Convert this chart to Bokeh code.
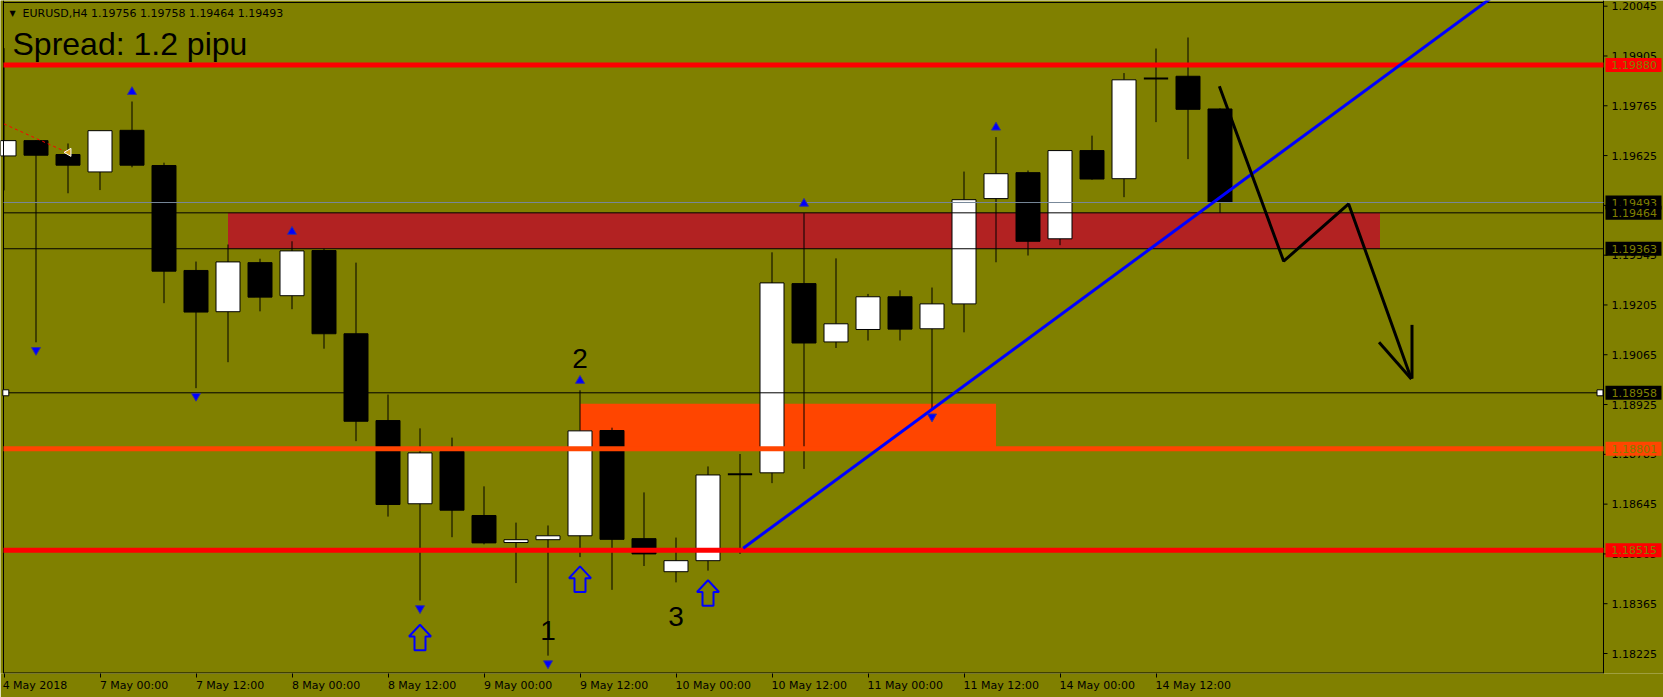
from bokeh.plotting import figure
from bokeh.models import Range1d, Label, FixedTicker, LinearAxis, ColumnDataSource
from bokeh.embed import file_html
from bokeh.resources import INLINE
from bokeh.core.properties import value
import math

# ---------------- data ----------------
bars = list(range(39))
opens = [1.19624, 1.19667, 1.19628, 1.19579, 1.19696, 1.19597, 1.19302, 1.19186, 1.19324, 1.19231,
         1.19358, 1.19124, 1.18880, 1.18646, 1.18793, 1.18613, 1.18537, 1.18545, 1.18556, 1.18852,
         1.18548, 1.18455, 1.18486, 1.18729, 1.18733, 1.19265, 1.19101, 1.19136, 1.19228, 1.19138,
         1.19208, 1.19504, 1.19577, 1.19391, 1.19639, 1.19560, 1.19842, 1.19848, 1.19756]
highs = [1.19927, 1.19668, 1.19659, 1.19695, 1.19777, 1.19605, 1.19327, 1.19375, 1.19335, 1.19384,
         1.19363, 1.19324, 1.18953, 1.18858, 1.18832, 1.18695, 1.18593, 1.18585, 1.18965, 1.18860,
         1.18678, 1.18551, 1.18751, 1.18786, 1.19353, 1.19463, 1.19336, 1.19236, 1.19246, 1.19254,
         1.19580, 1.19677, 1.19583, 1.19640, 1.19681, 1.19857, 1.19926, 1.19957, 1.19758]
lows = [1.19527, 1.19100, 1.19519, 1.19528, 1.19592, 1.19210, 1.18971, 1.19044, 1.19187, 1.19193,
        1.19082, 1.18822, 1.18610, 1.18374, 1.18552, 1.18532, 1.18423, 1.18219, 1.18496, 1.18404,
        1.18471, 1.18425, 1.18458, 1.18505, 1.18704, 1.18744, 1.19084, 1.19105, 1.19105, 1.18913,
        1.19128, 1.19325, 1.19344, 1.19373, 1.19557, 1.19508, 1.19719, 1.19615, 1.19464]
closes = [1.19667, 1.19626, 1.19598, 1.19695, 1.19598, 1.19300, 1.19185, 1.19326, 1.19227, 1.19357,
          1.19124, 1.18878, 1.18644, 1.18789, 1.18628, 1.18536, 1.18545, 1.18556, 1.18851, 1.18546,
          1.18505, 1.18486, 1.18727, 1.18729, 1.19267, 1.19098, 1.19152, 1.19228, 1.19137, 1.19208,
          1.19501, 1.19574, 1.19384, 1.19639, 1.19559, 1.19838, 1.19842, 1.19755, 1.19493]

x_tick_bars = [0, 3, 6, 9, 12, 15, 18, 21, 24, 27, 30, 33, 36]
x_tick_labels = ["4 May 2018", "7 May 00:00", "7 May 12:00", "8 May 00:00", "8 May 12:00",
                 "9 May 00:00", "9 May 12:00", "10 May 00:00", "10 May 12:00", "11 May 00:00",
                 "11 May 12:00", "14 May 00:00", "14 May 12:00"]
y_ticks = [1.18225, 1.18365, 1.18505, 1.18645, 1.18785, 1.18925, 1.19065, 1.19205,
           1.19345, 1.19485, 1.19625, 1.19765, 1.19905, 1.20045]

thick_levels = [1.19880, 1.18801, 1.18515]
thick_colors = ["#FF0000", "#FF4500", "#FF0000"]
thin_levels = [1.19464, 1.19363, 1.18958]
bid_level = 1.19493

zone_left = [7, 18]
zone_right = [43, 31]
zone_bottom = [1.19363, 1.18801]
zone_top = [1.19464, 1.18927]
zone_colors = ["#B22222", "#FF4500"]

fractal_up_bars = [4, 9, 18, 25, 31]
fractal_down_bars = [1, 6, 13, 17, 29]

signal_bars = [13, 18, 22]
signal_prices = [1.18270, 1.18434, 1.18395]

wave_texts = ["1", "2", "3"]
wave_bars = [17, 18, 21]
wave_prices = [1.18290, 1.19054, 1.18329]

trend_bars = [23.1, 37.0]
trend_prices = [1.18521, 1.19441]

zig_bars = [37.98, 39.99, 42.02, 43.98]
zig_prices = [1.19820, 1.19328, 1.19489, 1.18997]
head_bars0 = [42.97, 44.0]
head_prices0 = [1.19100, 1.19149]
head_bars1 = [43.98, 44.0]
head_prices1 = [1.18997, 1.18998]

trade_bars = [0.0, 1.97]
trade_prices = [1.19714, 1.19634]

tag_prices = [1.19880, 1.19493, 1.19464, 1.19363, 1.18958, 1.18801, 1.18515]
tag_colors = ["#FF0000", "#000000", "#000000", "#000000", "#000000", "#FF4500", "#FF0000"]

OLIVE = "#808000"
FONT = "DejaVu Sans"

# ---------------- scales ----------------
PXB = 32.0            # pixels per bar
PXP = 35566.0         # pixels per price unit
XL, XR = -3.5 / PXB, (1663 - 3.5) / PXB      # whole canvas width
X0, X1 = -0.5 / PXB, (1603 - 3.5) / PXB       # chart border (left / right)
YB, YT = 1.181688, 1.200610                   # frame bottom / top
Y_TOP_BORDER = 1.200554
Y_BOT_BORDER = YB + 0.5 / PXP

p = figure(width=1663, height=697, x_range=Range1d(XL, XR), y_range=Range1d(YB, YT),
           output_backend="svg", toolbar_location=None, y_axis_location=None,
           min_border_left=0, min_border_top=0, min_border_right=0, min_border_bottom=24,
           background_fill_color=OLIVE, border_fill_color=OLIVE, outline_line_color=None)
p.xgrid.visible = False
p.ygrid.visible = False

# x axis: tick marks
ax1 = p.xaxis[0]
ax1.ticker = FixedTicker(ticks=x_tick_bars)
ax1.major_label_overrides = {b: "" for b in x_tick_bars}
ax1.major_label_text_font_size = "1px"
ax1.major_label_standoff = 0
ax1.axis_line_color = None
ax1.major_tick_line_color = "black"
ax1.minor_tick_line_color = None
ax1.major_tick_in = 0
ax1.major_tick_out = 4

# x axis: labels starting at their tick (MT4 style)
label_pos = [round(b + len(t) * 3.1 / PXB, 4) for b, t in zip(x_tick_bars, x_tick_labels)]
ax2 = LinearAxis(ticker=FixedTicker(ticks=label_pos),
                 major_label_overrides={pos: t for pos, t in zip(label_pos, x_tick_labels)},
                 axis_line_color=None, major_tick_line_color=None, minor_tick_line_color=None,
                 major_tick_in=0, major_tick_out=0, major_label_standoff=1,
                 major_label_text_font=FONT, major_label_text_font_size="11px",
                 major_label_text_color="black")
p.add_layout(ax2, "below")

# zones (below candles)
p.quad(left=zone_left, right=zone_right, bottom=zone_bottom, top=zone_top,
       fill_color=zone_colors, line_color=None)

# candles
bull = [c > o for o, c in zip(opens, closes)]
doji = [abs(c - o) < 1e-9 for o, c in zip(opens, closes)]
src = ColumnDataSource(dict(
    x=bars, high=highs, low=lows,
    top=[max(o, c) for o, c in zip(opens, closes)],
    bottom=[min(o, c) for o, c in zip(opens, closes)],
    fill=["white" if b else "black" for b in bull],
))
p.segment(x0="x", y0="low", x1="x", y1="high", source=src, line_color="black", line_width=1)
body_src = ColumnDataSource({k: [v for v, d in zip(vals, doji) if not d] for k, vals in src.data.items()})
p.vbar(x="x", top="top", bottom="bottom", width=0.75, source=body_src,
       fill_color="fill", line_color="black", line_width=1)
dx = [b for b, d in zip(bars, doji) if d]
dy = [o for o, d in zip(opens, doji) if d]
p.segment(x0=[b - 0.38 for b in dx], y0=dy, x1=[b + 0.38 for b in dx], y1=dy,
          line_color="black", line_width=2)

# chart border
p.segment(x0=[X0, X1, X0, X0], y0=[YB, YB, Y_TOP_BORDER, Y_BOT_BORDER],
          x1=[X0, X1, X1, X1], y1=[YT, YT, Y_TOP_BORDER, Y_BOT_BORDER],
          line_color="black", line_width=1)

# horizontal levels
p.segment(x0=[X0] * 3, x1=[X1] * 3, y0=thick_levels, y1=thick_levels, line_color=thick_colors, line_width=5)
p.segment(x0=[X0] * 3, x1=[X1] * 3, y0=thin_levels, y1=thin_levels, line_color="black", line_width=1)
p.segment(x0=[X0], x1=[X1], y0=[bid_level], y1=[bid_level], line_color="#778899", line_width=1)

# selected-line handles
p.scatter(x=[X0 + 2.3 / PXB, X1 - 3.5 / PXB], y=[thin_levels[2]] * 2, marker="square", size=6,
          fill_color="white", line_color="black", line_width=1)

# trade history dashed line
p.line(x=trade_bars, y=trade_prices, line_color="red", line_width=1, line_dash="3 3")
p.scatter(x=[trade_bars[1] + 0.05], y=[trade_prices[1]], marker="triangle", angle=math.pi / 2,
          size=8, fill_color="#DAA520", line_color="white", line_width=1)

# trend line through two anchors, extended to the right
slope = (trend_prices[1] - trend_prices[0]) / (trend_bars[1] - trend_bars[0])
p.line(x=[trend_bars[0], X1], y=[trend_prices[0], trend_prices[0] + slope * (X1 - trend_bars[0])],
       line_color="#0000FF", line_width=3)

# fractals
p.scatter(x=fractal_up_bars, y=[highs[b] + 0.00027 for b in fractal_up_bars], marker="triangle",
          size=9, fill_color="#0000FF", line_color="#3030A0", line_width=1)
p.scatter(x=fractal_down_bars, y=[lows[b] - 0.00022 for b in fractal_down_bars], marker="inverted_triangle",
          size=9, fill_color="#0000FF", line_color="#3030A0", line_width=1)

# hollow signal arrows (shape template in pixels)
arrow_px = [(0, -12.8), (11, -1), (5.5, -1), (5.5, 12.8), (-5.5, 12.8), (-5.5, -1), (-11, -1)]
p.patches(xs=[[b + ax / PXB for ax, ay in arrow_px] for b in signal_bars],
          ys=[[pr - ay / PXP for ax, ay in arrow_px] for pr in signal_prices],
          fill_color=None, line_color="#0000FF", line_width=2)

# wave labels
p.text(x=wave_bars, y=wave_prices, text=wave_texts, text_color="black",
       text_font=value("Liberation Sans"), text_font_size="28px", text_align="center",
       text_baseline="middle")

# hand-drawn projection
p.line(x=zig_bars, y=zig_prices, line_color="black", line_width=3)
p.segment(x0=head_bars0, y0=head_prices0, x1=head_bars1, y1=head_prices1, line_color="black", line_width=3)

# price scale on the right
n = len(y_ticks)
p.segment(x0=[X1] * n, x1=[X1 + 4 / PXB] * n, y0=y_ticks, y1=y_ticks, line_color="black", line_width=1)
p.text(x=[X1 + 8 / PXB] * n, y=y_ticks, text=["%.5f" % t for t in y_ticks], text_color="black",
       text_font=value(FONT), text_font_size="11px", text_align="left", text_baseline="middle")
for pr, col in zip(tag_prices, tag_colors):
    p.quad(left=[X1 + 2 / PXB], right=[X1 + 58 / PXB], bottom=[pr - 7 / PXP], top=[pr + 7 / PXP],
           fill_color=col, line_color=None)
    p.text(x=[X1 + 8 / PXB], y=[pr], text=["%.5f" % pr], text_color=OLIVE,
           text_font=value(FONT), text_font_size="11px", text_align="left", text_baseline="middle")

# header texts
p.add_layout(Label(x=X0 + 6 / PXB, y=1.20024, text="\u25bc", text_font=FONT, text_font_size="8px",
                   text_color="black", text_baseline="alphabetic"))
p.add_layout(Label(x=X0 + 19 / PXB, y=1.20024,
                   text="EURUSD,H4  %.5f %.5f %.5f %.5f" % (opens[-1], highs[-1], lows[-1], closes[-1]),
                   text_font=FONT, text_font_size="11px", text_color="black", text_baseline="alphabetic"))
p.add_layout(Label(x=X0 + 9 / PXB, y=1.19940, text="Spread: 1.2 pipu", text_font="Liberation Sans",
                   text_font_size="32px", text_color="black", text_baseline="alphabetic"))

html = file_html(p, INLINE)
html = html.replace("<body>", '<body style="background-color:#808000;">', 1)
open("out.html", "w").write(html)
